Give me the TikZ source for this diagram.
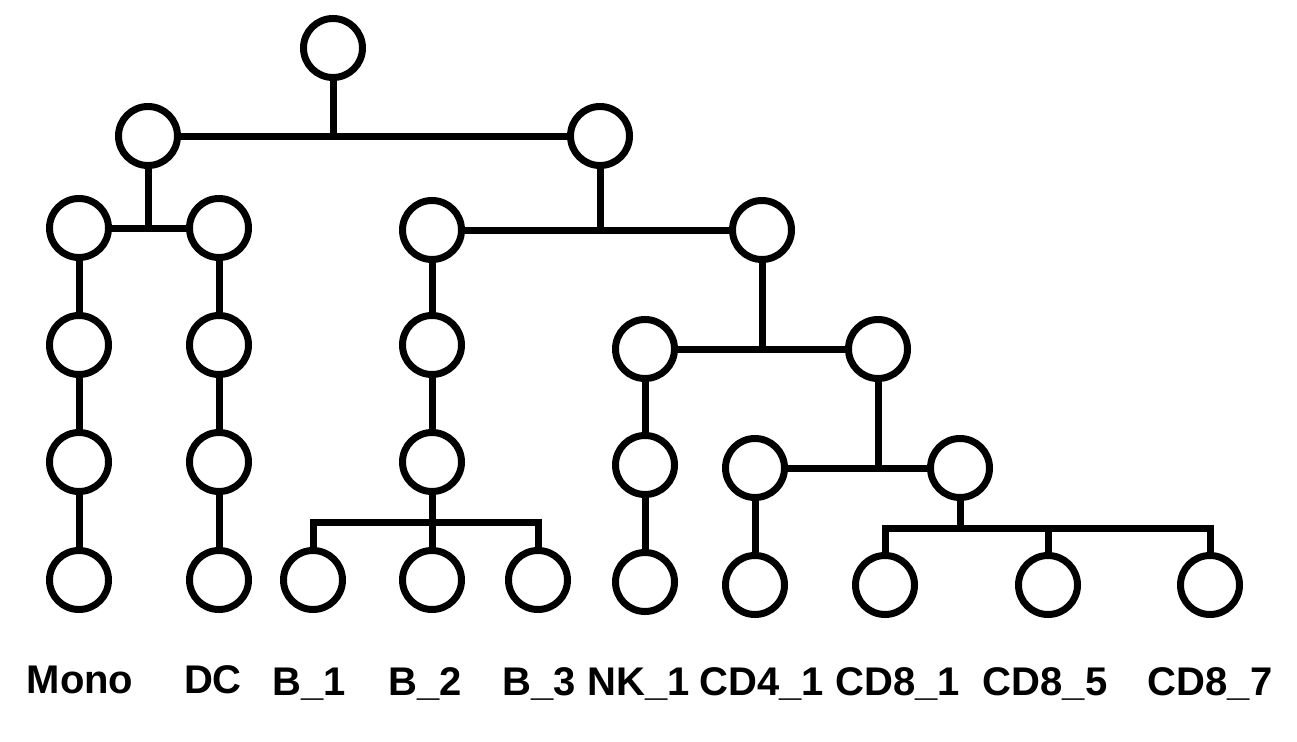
\documentclass[tikz,border=0pt]{standalone}
\usepackage{fontspec}
\setmainfont{Liberation Sans}
\begin{document}
\begin{tikzpicture}[x=1pt,y=-1pt,
  cell/.style={circle,draw=black,line width=7pt,minimum size=59pt,inner sep=0pt,fill=white},
  link/.style={line width=7pt,line cap=butt,line join=miter},
  lab/.style={font=\fontsize{40}{40}\selectfont\bfseries,anchor=base,inner sep=0pt}]
\useasboundingbox (0,0) rectangle (1297,741);
% nodes
\node[cell] (root) at (333,48) {};
\node[cell] (a) at (148,136) {};
\node[cell] (b) at (600,136) {};
\node[cell] (m1) at (79,228) {};
\node[cell] (m2) at (79,345) {};
\node[cell] (m3) at (79,462) {};
\node[cell] (m4) at (79,580) {};
\node[cell] (d1) at (219,228) {};
\node[cell] (d2) at (219,345) {};
\node[cell] (d3) at (219,462) {};
\node[cell] (d4) at (219,580) {};
\node[cell] (c) at (432,230) {};
\node[cell] (dd) at (762,230) {};
\node[cell] (b2) at (432,345) {};
\node[cell] (b3) at (432,462) {};
\node[cell] (bl1) at (313,580) {};
\node[cell] (bl2) at (432,580) {};
\node[cell] (bl3) at (538,580) {};
\node[cell] (e) at (645,349) {};
\node[cell] (f) at (878,349) {};
\node[cell] (n2) at (645,465) {};
\node[cell] (n3) at (645,582) {};
\node[cell] (g) at (755,468) {};
\node[cell] (h) at (960,468) {};
\node[cell] (cd4) at (755,585) {};
\node[cell] (c81) at (885,585) {};
\node[cell] (c85) at (1048,585) {};
\node[cell] (c87) at (1210,585) {};
% junction coordinates of the brackets
\coordinate (jb) at (432,522);
\coordinate (jc) at (960,528);
% connectors
\draw[link] (a) -- (b);
\draw[link] (root) -- (root |- a);
\draw[link] (m1) -- (d1);
\draw[link] (a) -- (a |- m1);
\draw[link] (c) -- (dd);
\draw[link] (b) -- (b |- c);
\draw[link] (e) -- (f);
\draw[link] (dd) -- (dd |- e);
\draw[link] (g) -- (h);
\draw[link] (f) -- (f |- g);
\draw[link] (m1) -- (m2);
\draw[link] (m2) -- (m3);
\draw[link] (m3) -- (m4);
\draw[link] (d1) -- (d2);
\draw[link] (d2) -- (d3);
\draw[link] (d3) -- (d4);
\draw[link] (c) -- (b2);
\draw[link] (b2) -- (b3);
\draw[link] (b3) -- (bl2);
\draw[link] (bl1) |- (jb) -| (bl3);
\draw[link] (e) -- (n2);
\draw[link] (n2) -- (n3);
\draw[link] (g) -- (cd4);
\draw[link] (h) -- (jc);
\draw[link] (c81) |- (jc) -| (c87);
\draw[link] (c85 |- jc) -- (c85);
% labels
\node[lab] (lmono) at (80,693) {Mono};
\node[lab] (ldc) at (213,693) {DC};
\node[lab] (lb1) at (309,695) {B\_1};
\node[lab] (lb2) at (425,695) {B\_2};
\node[lab] (lb3) at (539,695) {B\_3};
\node[lab] (lnk) at (639,695) {NK\_1};
\node[lab] (lcd4) at (762,695) {CD4\_1};
\node[lab] (lc81) at (898,695) {CD8\_1};
\node[lab] (lc85) at (1045,695) {CD8\_5};
\node[lab] (lc87) at (1210,695) {CD8\_7};
\end{tikzpicture}
\end{document}
